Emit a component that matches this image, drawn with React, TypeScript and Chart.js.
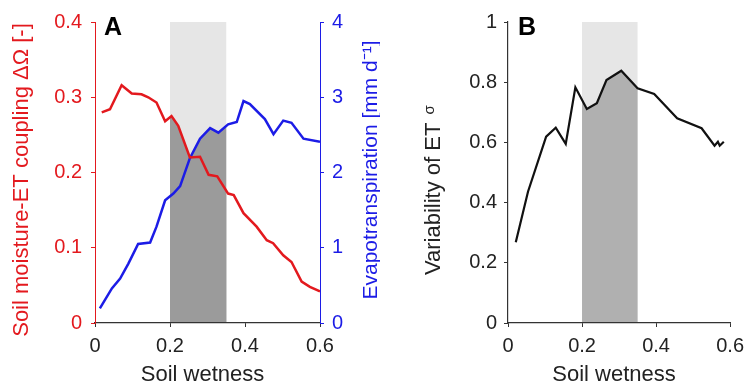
import React, { useEffect, useRef } from "react";
import { Chart, registerables } from "chart.js";

Chart.register(...registerables);

// ---------- data ----------
const xTicks = [0, 0.2, 0.4, 0.6];
const couplingTicks = [0, 0.1, 0.2, 0.3, 0.4];
const etTicks = [0, 1, 2, 3, 4];
const varTicks = [0, 0.2, 0.4, 0.6, 0.8, 1];
const bandRange = [0.2, 0.35];

const couplingWetness = [0.018, 0.04, 0.071, 0.098, 0.124, 0.142, 0.164, 0.187, 0.204, 0.222, 0.253, 0.28, 0.303, 0.326, 0.355, 0.37, 0.396, 0.431, 0.458, 0.475, 0.502, 0.524, 0.551, 0.573, 0.6];
const couplingValues = [0.28, 0.284, 0.316, 0.305, 0.304, 0.3, 0.293, 0.268, 0.275, 0.262, 0.22, 0.221, 0.197, 0.195, 0.172, 0.17, 0.146, 0.128, 0.11, 0.106, 0.09, 0.081, 0.055, 0.048, 0.042];

const etWetness = [0.013, 0.045, 0.067, 0.089, 0.115, 0.147, 0.164, 0.187, 0.209, 0.227, 0.253, 0.28, 0.307, 0.329, 0.355, 0.378, 0.396, 0.413, 0.453, 0.476, 0.502, 0.524, 0.556, 0.6];
const etValues = [0.195, 0.46, 0.59, 0.79, 1.05, 1.07, 1.28, 1.63, 1.72, 1.82, 2.19, 2.45, 2.59, 2.53, 2.64, 2.67, 2.95, 2.91, 2.71, 2.51, 2.69, 2.66, 2.45, 2.41];

const varWetness = [0.021, 0.054, 0.103, 0.129, 0.156, 0.182, 0.213, 0.24, 0.266, 0.306, 0.35, 0.395, 0.457, 0.523, 0.558, 0.567, 0.572, 0.583];
const varValues = [0.268, 0.436, 0.619, 0.649, 0.595, 0.783, 0.711, 0.73, 0.807, 0.838, 0.78, 0.761, 0.68, 0.647, 0.589, 0.602, 0.589, 0.602];

// ---------- text ----------
const xTitle = "Soil wetness";
const couplingTitle = "Soil moisture-ET coupling ΔΩ [-]";
const etTitle = "Evapotranspiration [mm d⁻¹]";
const varTitle = "Variability of ET";
const varSymbol = "σ";

// ---------- styling ----------
const FONT = "'Liberation Sans', Arial, sans-serif";
const RED = "#e3191e";
const BLUE = "#1c1ce6";
const AXIS = "#333333";
const TEXT = "#222222";
const LIGHT = "#e6e6e6";

const toPoints = (xs: number[], ys: number[]) => xs.map((x, i) => ({ x, y: ys[i] }));

function setTicks(values: number[]) {
  return (scale: any) => {
    scale.ticks = values.map((v) => ({ value: v }));
  };
}

function drawVertical(ctx: any, text: string, cx: number, cy: number, font: string, color: string, align: string = "center") {
  ctx.save();
  ctx.translate(cx, cy);
  ctx.rotate(-Math.PI / 2);
  ctx.font = font;
  ctx.fillStyle = color;
  ctx.textAlign = align;
  ctx.textBaseline = "middle";
  ctx.fillText(text, 0, 0);
  const w = ctx.measureText(text).width;
  ctx.restore();
  return w;
}

type Decor = (chart: any, ctx: any) => void;

function shadePlugin(darkColor: string, decor: Decor) {
  return {
    id: "shadeDecor",
    beforeDraw(chart: any) {
      const ctx = chart.ctx;
      const area = chart.chartArea;
      const xs = chart.scales.x;
      const x0 = xs.getPixelForValue(bandRange[0]);
      const x1 = xs.getPixelForValue(bandRange[1]);
      ctx.save();
      ctx.fillStyle = LIGHT;
      ctx.fillRect(x0, area.top, x1 - x0, area.bottom - area.top);
      ctx.beginPath();
      ctx.rect(x0, area.top, x1 - x0, area.bottom - area.top);
      ctx.clip();
      ctx.fillStyle = darkColor;
      chart.data.datasets.forEach((_d: any, i: number) => {
        const meta = chart.getDatasetMeta(i);
        const pts = meta.data;
        if (!pts.length) return;
        ctx.beginPath();
        ctx.moveTo(pts[0].x, area.bottom);
        pts.forEach((p: any) => ctx.lineTo(p.x, p.y));
        ctx.lineTo(pts[pts.length - 1].x, area.bottom);
        ctx.closePath();
        ctx.fill();
      });
      ctx.restore();
    },
    afterDraw(chart: any) {
      const ctx = chart.ctx;
      const area = chart.chartArea;
      ctx.save();
      // x-axis title
      ctx.font = `22px ${FONT}`;
      ctx.fillStyle = TEXT;
      ctx.textAlign = "center";
      ctx.textBaseline = "middle";
      ctx.fillText(xTitle, (area.left + area.right) / 2 - 5, 375);
      ctx.restore();
      decor(chart, ctx);
    },
  };
}

function panelLabel(ctx: any, label: string, x: number, y: number) {
  ctx.save();
  ctx.fillStyle = "#000";
  ctx.font = `bold 25px ${FONT}`;
  ctx.textBaseline = "alphabetic";
  ctx.textAlign = "left";
  ctx.fillText(label, x, y);
  ctx.restore();
}

function xScale(height: number) {
  return {
    type: "linear",
    min: 0,
    max: 0.6,
    afterBuildTicks: setTicks(xTicks),
    afterFit: (s: any) => {
      s.height = height;
    },
    border: { color: AXIS, width: 1.2 },
    grid: { drawOnChartArea: false, drawTicks: true, tickLength: 4, color: AXIS },
    ticks: { color: TEXT, font: { family: FONT, size: 20 }, padding: 7, maxRotation: 0, callback: (v: any) => String(v) },
    title: { display: false },
  };
}

export default function App() {
  const refA = useRef<HTMLCanvasElement>(null);
  const refB = useRef<HTMLCanvasElement>(null);

  useEffect(() => {
    const chartA = new Chart(refA.current as HTMLCanvasElement, {
      type: "line",
      data: {
        datasets: [
          {
            label: "coupling",
            data: toPoints(couplingWetness, couplingValues),
            borderColor: RED,
            borderWidth: 2.5,
            pointRadius: 0,
            tension: 0,
            yAxisID: "y",
            fill: false,
          },
          {
            label: "ET",
            data: toPoints(etWetness, etValues),
            borderColor: BLUE,
            borderWidth: 2.5,
            pointRadius: 0,
            tension: 0,
            yAxisID: "y2",
            fill: false,
          },
        ],
      },
      options: {
        responsive: false,
        animation: false,
        layout: { padding: { top: 22, left: 0, right: 0, bottom: 0 } },
        plugins: { legend: { display: false }, tooltip: { enabled: false } },
        scales: {
          x: xScale(65) as any,
          y: {
            type: "linear",
            position: "left",
            min: 0,
            max: 0.4,
            afterBuildTicks: setTicks(couplingTicks),
            afterFit: (s: any) => {
              s.width = 95;
            },
            border: { color: RED, width: 1 },
            grid: { drawOnChartArea: false, tickLength: 4, color: RED },
            ticks: { color: RED, font: { family: FONT, size: 20 }, padding: 9, callback: (v: any) => String(v) },
          },
          y2: {
            type: "linear",
            position: "right",
            min: 0,
            max: 4,
            afterBuildTicks: setTicks(etTicks),
            afterFit: (s: any) => {
              s.width = 60;
            },
            border: { color: BLUE, width: 1 },
            grid: { drawOnChartArea: false, tickLength: 4, color: BLUE },
            ticks: { color: BLUE, font: { family: FONT, size: 20 }, padding: 8, callback: (v: any) => String(v) },
          },
        },
      } as any,
      plugins: [
        shadePlugin("#9b9b9b", (chart, ctx) => {
          drawVertical(ctx, couplingTitle, 22, 180, `22px ${FONT}`, RED);
          drawVertical(ctx, etTitle, 371, 170, `21px ${FONT}`, BLUE);
          panelLabel(ctx, "A", 104, 35);
        }),
      ],
    });

    const chartB = new Chart(refB.current as HTMLCanvasElement, {
      type: "line",
      data: {
        datasets: [
          {
            label: "variability",
            data: toPoints(varWetness, varValues),
            borderColor: "#111",
            borderWidth: 2.2,
            pointRadius: 0,
            tension: 0,
            fill: false,
          },
        ],
      },
      options: {
        responsive: false,
        animation: false,
        layout: { padding: { top: 22, left: 0, right: 17, bottom: 0 } },
        plugins: { legend: { display: false }, tooltip: { enabled: false } },
        scales: {
          x: xScale(65) as any,
          y: {
            type: "linear",
            position: "left",
            min: 0,
            max: 1,
            afterBuildTicks: setTicks(varTicks),
            afterFit: (s: any) => {
              s.width = 128;
            },
            border: { color: AXIS, width: 1.2 },
            grid: { drawOnChartArea: false, tickLength: 4, color: AXIS },
            ticks: { color: TEXT, font: { family: FONT, size: 20 }, padding: 7, callback: (v: any) => String(v) },
          },
        },
      } as any,
      plugins: [
        shadePlugin("#b0b0b0", (chart, ctx) => {
          // title drawn bottom-to-top, starting at canvas y=275, x=434-380
          const w = drawVertical(ctx, varTitle, 54, 275, `22px ${FONT}`, TEXT, "left");
          drawVertical(ctx, varSymbol, 50, 275 - w - 8, `15px ${FONT}`, TEXT, "left");
          panelLabel(ctx, "B", 138, 35);
        }),
      ],
    });

    return () => {
      chartA.destroy();
      chartB.destroy();
    };
  }, []);

  return (
    <div style={{ position: "fixed", left: 0, top: 0, width: 751, height: 388, background: "#fff" }}>
      <canvas ref={refA} width={380} height={388} style={{ position: "absolute", left: 0, top: 0, width: 380, height: 388 }} />
      <canvas ref={refB} width={371} height={388} style={{ position: "absolute", left: 380, top: 0, width: 371, height: 388 }} />
    </div>
  );
}
